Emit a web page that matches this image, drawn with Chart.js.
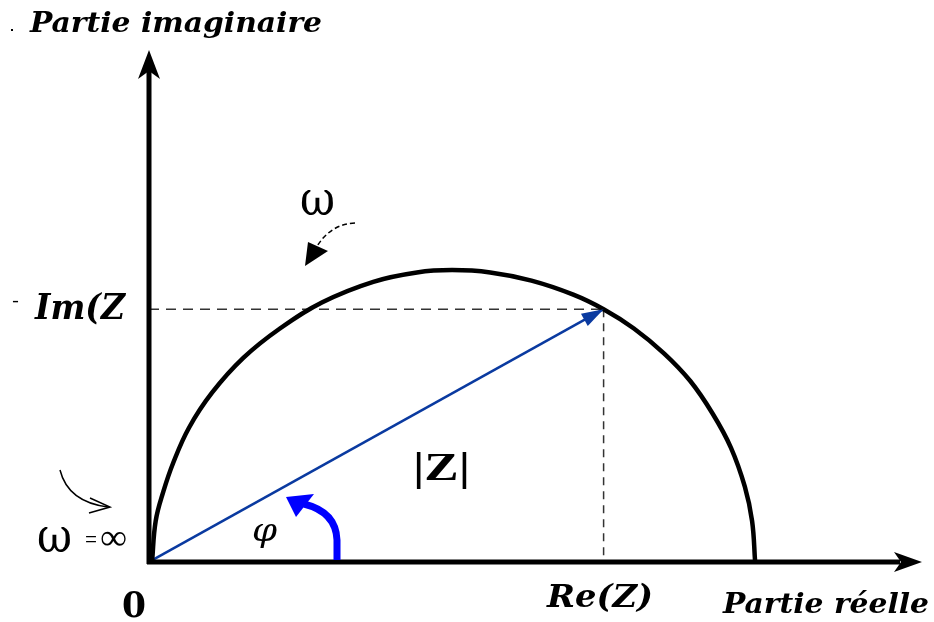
<!DOCTYPE html>
<html>
<head>
<meta charset="utf-8">
<script src="https://cdn.jsdelivr.net/npm/chart.js@4"></script>
<style>
  body { margin: 0; background: #fff; }
  #wrap { width: 934px; height: 622px; }
</style>
</head>
<body>
<div id="wrap"><canvas id="nyquist" width="934" height="622"></canvas></div>
<script>
// Demi-cercle de Nyquist (partie réelle / partie imaginaire)
const arcRe = [0.5, 1.1, 2.35, 4.0, 6.6, 10.4, 15.6, 21.6, 28.6, 37.0, 44.2, 50, 56.3, 63.1, 70, 75, 80, 85, 89.3, 93, 96, 98.3, 99.5, 100];
const arcIm = [0, 7, 12, 17, 23, 29, 35, 40, 44.5, 48, 49.6, 50, 49.6, 48.2, 45.8, 43.3, 40, 35.7, 31, 25.4, 19.6, 12.9, 7, 0];

// vecteur |Z| de l'origine au point courant
const vectorRe = [0, 75];
const vectorIm = [0, 43.3];

// bornes des axes
const reRange = [0, 127.2];
const imRange = [0, 87.7];

function pts(xs, ys) {
  return xs.map((x, i) => ({ x: x, y: ys[i] }));
}

function fitText(ctx, text, font, x, y, w) {
  ctx.save();
  ctx.font = font;
  ctx.textBaseline = "alphabetic";
  ctx.textAlign = "left";
  const m = ctx.measureText(text).width;
  ctx.translate(x, y);
  ctx.scale(w / m, 1);
  ctx.fillText(text, 0, 0);
  ctx.restore();
}

const decor = {
  id: "decor",
  afterDatasetsDraw(chart) {
    const ctx = chart.ctx;
    const xs = chart.scales.x, ys = chart.scales.y;
    const ox = xs.getPixelForValue(0), oy = ys.getPixelForValue(0);
    const top = chart.chartArea.top, right = chart.chartArea.right;
    ctx.save();
    ctx.fillStyle = "#000";
    ctx.strokeStyle = "#000";

    // axes
    ctx.lineWidth = 5;
    ctx.beginPath();
    ctx.moveTo(ox, oy + 2);
    ctx.lineTo(ox, top + 20);
    ctx.moveTo(ox - 2, oy);
    ctx.lineTo(right - 20, oy);
    ctx.stroke();
    ctx.beginPath();
    ctx.moveTo(ox, top);
    ctx.lineTo(ox + 11, top + 29);
    ctx.lineTo(ox, top + 21);
    ctx.lineTo(ox - 11, top + 29);
    ctx.closePath();
    ctx.fill();
    ctx.beginPath();
    ctx.moveTo(right + 2, oy);
    ctx.lineTo(right - 26, oy - 10);
    ctx.lineTo(right - 19, oy);
    ctx.lineTo(right - 26, oy + 10);
    ctx.closePath();
    ctx.fill();

    // pointe du vecteur |Z|
    const tx = xs.getPixelForValue(vectorRe[1]), ty = ys.getPixelForValue(vectorIm[1]);
    const a = Math.atan2(ty - oy, tx - ox);
    ctx.fillStyle = "#0a3aa0";
    ctx.beginPath();
    ctx.moveTo(tx, ty);
    ctx.lineTo(tx - 22 * Math.cos(a) + 7 * Math.sin(a), ty - 22 * Math.sin(a) - 7 * Math.cos(a));
    ctx.lineTo(tx - 22 * Math.cos(a) - 7 * Math.sin(a), ty - 22 * Math.sin(a) + 7 * Math.cos(a));
    ctx.closePath();
    ctx.fill();

    // flèche de l'angle phi
    ctx.strokeStyle = "#0000ff";
    ctx.fillStyle = "#0000ff";
    ctx.lineWidth = 7;
    ctx.beginPath();
    ctx.moveTo(337, oy - 2);
    ctx.lineTo(337, 540);
    ctx.quadraticCurveTo(336, 512, 304, 504);
    ctx.stroke();
    ctx.beginPath();
    ctx.moveTo(286, 497);
    ctx.lineTo(314, 494);
    ctx.lineTo(296, 517);
    ctx.closePath();
    ctx.fill();

    // petites flèches omega
    ctx.strokeStyle = "#000";
    ctx.fillStyle = "#000";
    ctx.lineWidth = 1.5;
    ctx.setLineDash([5, 3]);
    ctx.beginPath();
    ctx.moveTo(355, 223);
    ctx.quadraticCurveTo(330, 224, 316, 248);
    ctx.stroke();
    ctx.setLineDash([]);
    ctx.beginPath();
    ctx.moveTo(305, 266);
    ctx.lineTo(308, 242);
    ctx.lineTo(328, 251);
    ctx.closePath();
    ctx.fill();

    ctx.beginPath();
    ctx.moveTo(60, 470);
    ctx.quadraticCurveTo(68, 502, 108, 507);
    ctx.stroke();
    ctx.beginPath();
    ctx.moveTo(90, 498);
    ctx.lineTo(110, 507);
    ctx.lineTo(89, 513);
    ctx.stroke();

    // textes
    const imY = ys.getPixelForValue(vectorIm[1]);
    fitText(ctx, "Partie imaginaire", "bold italic 28px 'DejaVu Serif'", 30, 32, 292);
    fitText(ctx, "Partie réelle", "bold italic 28px 'DejaVu Serif'", 723, 613, 206);
    fitText(ctx, "Im(Z", "bold italic 36px 'DejaVu Serif'", 35, imY + 10, 90);
    fitText(ctx, "Re(Z)", "bold italic 32px 'DejaVu Serif'", 547, 607, 106);
    fitText(ctx, "0", "bold 36px 'DejaVu Serif'", 122, 617, 24);
    fitText(ctx, "|Z|", "bold 40px 'Liberation Serif'", 413, 480, 57);
    fitText(ctx, "\u03c9", "48px 'DejaVu Serif'", 300, 215, 35);
    fitText(ctx, "\u03c9", "48px 'DejaVu Serif'", 37, 552, 35);
    fitText(ctx, "=", "26px 'Liberation Serif'", 85, 548, 12);
    fitText(ctx, "\u221e", "36px 'Liberation Serif'", 100, 549, 27);
    fitText(ctx, "\u03c6", "italic 32px 'DejaVu Serif'", 252, 541, 25);
    fitText(ctx, "-", "18px 'DejaVu Sans'", 12, 306, 7);
    ctx.fillRect(11, 29, 2, 2);
    ctx.restore();
  }
};

new Chart(document.getElementById("nyquist"), {
  type: "scatter",
  data: {
    datasets: [
      {
        // demi-cercle
        data: pts(arcRe, arcIm),
        showLine: true,
        borderColor: "#000",
        borderWidth: 4.5,
        pointRadius: 0,
        tension: 0.4
      },
      {
        // pointillés horizontaux -Im(Z)
        data: pts([0, vectorRe[1]], [vectorIm[1], vectorIm[1]]),
        showLine: true,
        borderColor: "#333",
        borderWidth: 1.5,
        borderDash: [10, 7],
        pointRadius: 0
      },
      {
        // pointillés verticaux Re(Z)
        data: pts([vectorRe[1], vectorRe[1]], [vectorIm[1], 0]),
        showLine: true,
        borderColor: "#333",
        borderWidth: 1.5,
        borderDash: [8, 6],
        pointRadius: 0
      },
      {
        // vecteur |Z|
        data: pts(vectorRe, vectorIm),
        showLine: true,
        borderColor: "#0a3aa0",
        borderWidth: 2.5,
        pointRadius: 0
      }
    ]
  },
  options: {
    responsive: false,
    animation: false,
    devicePixelRatio: 1,
    layout: { autoPadding: false, padding: { left: 149, right: 14, top: 50, bottom: 60 } },
    plugins: { legend: { display: false }, tooltip: { enabled: false } },
    scales: {
      x: { type: "linear", min: reRange[0], max: reRange[1], display: false },
      y: { type: "linear", min: imRange[0], max: imRange[1], display: false }
    }
  },
  plugins: [decor]
});
</script>
</body>
</html>
